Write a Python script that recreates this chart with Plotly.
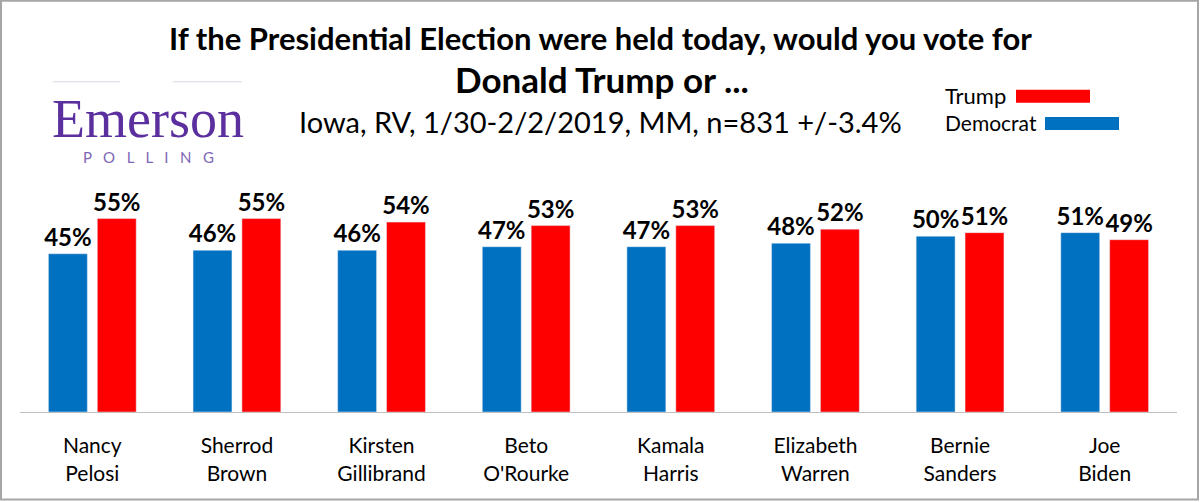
import plotly.graph_objects as go

candidates = ["Nancy<br>Pelosi", "Sherrod<br>Brown", "Kirsten<br>Gillibrand", "Beto<br>O'Rourke",
              "Kamala<br>Harris", "Elizabeth<br>Warren", "Bernie<br>Sanders", "Joe<br>Biden"]
democrat = [45, 46, 46, 47, 47, 48, 50, 51]
trump = [55, 55, 54, 53, 53, 52, 51, 49]

BLUE = "#0070C0"
RED = "#FF0000"
FONT = "Lato"

W, H = 1200, 502
L, R = 20, 1177
BASE = 411.7
TOPY = 201.0


def px(x):
    return (x - L) / (R - L)


def py(y):
    return (BASE - y) / (BASE - TOPY)


label_font = dict(family=FONT, size=24, color="black", weight="bold")
fig = go.Figure()
fig.add_trace(go.Bar(x=candidates, y=democrat, name="Democrat", marker_color=BLUE,
                     texttemplate="%{y}%", textposition="outside", textfont=label_font,
                     constraintext="none", cliponaxis=False))
fig.add_trace(go.Bar(x=candidates, y=trump, name="Trump", marker_color=RED,
                     texttemplate="%{y}%", textposition="outside", textfont=label_font,
                     constraintext="none", cliponaxis=False))

shapes = []
# outer border
shapes.append(dict(type="rect", xref="paper", yref="paper", x0=px(1), x1=px(1198), y0=py(1), y1=py(499),
                   line=dict(color="#A6A6A6", width=2), fillcolor="rgba(0,0,0,0)", layer="below"))
# legend swatches
shapes.append(dict(type="rect", xref="paper", yref="paper", x0=px(1016), x1=px(1090), y0=py(90), y1=py(103),
                   line=dict(width=0), fillcolor=RED))
shapes.append(dict(type="rect", xref="paper", yref="paper", x0=px(1045), x1=px(1119), y0=py(117), y1=py(130),
                   line=dict(width=0), fillcolor=BLUE))
# logo lines
for a, b in [(53, 120), (173, 242)]:
    shapes.append(dict(type="line", xref="paper", yref="paper", x0=px(a), x1=px(b), y0=py(82), y1=py(82),
                       line=dict(color="#DCD3EC", width=1)))

annotations = [
    dict(text="<b>If the Presidential Election were held today, would you vote for</b>", x=px(600), y=py(38),
         font=dict(family=FONT, size=31, color="black")),
    dict(text="<b>Donald Trump or ...</b>", x=px(602), y=py(79), font=dict(family=FONT, size=35, color="black")),
    dict(text="Iowa, RV, 1/30-2/2/2019, MM, n=831 +/-3.4%", x=px(600), y=py(122),
         font=dict(family=FONT, size=29, color="black")),
    dict(text="Trump", x=px(943), y=py(96), xanchor="left", font=dict(family=FONT, size=22, color="black")),
    dict(text="Democrat", x=px(943), y=py(123), xanchor="left", font=dict(family=FONT, size=21, color="black")),
    dict(text="Emerson", x=px(148), y=py(119), font=dict(family="Liberation Serif", size=54, color="#5B2F9E")),
    dict(text="P   O   L   L   I   N   G", x=px(148), y=py(157), font=dict(family=FONT, size=15, color="#7E68B5")),
]
for a in annotations:
    a.update(xref="paper", yref="paper", showarrow=False, xanchor=a.get("xanchor", "center"), yanchor="middle")

fig.update_layout(
    width=W, height=H,
    margin=dict(l=L, r=W - R, t=TOPY, b=H - BASE, autoexpand=False),
    paper_bgcolor="white", plot_bgcolor="white",
    barmode="group", bargap=0.324, bargroupgap=0.204,
    showlegend=False,
    shapes=shapes, annotations=annotations,
    font=dict(family=FONT),
)
fig.update_xaxes(showline=True, linecolor="#BFBFBF", linewidth=1, ticks="outside", ticklen=15,
                 tickcolor="rgba(0,0,0,0)", tickfont=dict(family=FONT, size=21, color="black"),
                 showgrid=False)
fig.update_yaxes(range=[0, 60], visible=False, showgrid=False)

fig.write_html("out.html")
